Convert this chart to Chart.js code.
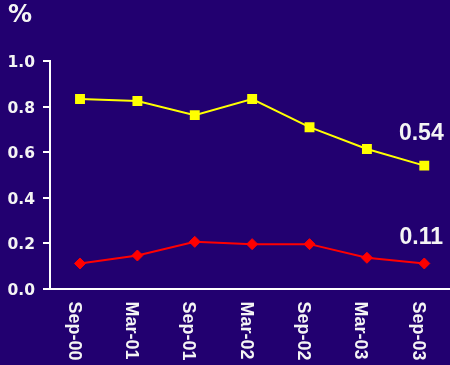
<!DOCTYPE html>
<html>
<head>
<meta charset="utf-8">
<script src="https://cdn.jsdelivr.net/npm/chart.js@4/dist/chart.umd.min.js"></script>
<style>
  html, body { margin: 0; padding: 0; background: #220070; }
  #wrap { position: relative; width: 450px; height: 365px; }
</style>
</head>
<body>
<div id="wrap"><canvas id="c"></canvas></div>
<script>
// Half-year periods on the horizontal axis
const periods = ['Sep-00', 'Mar-01', 'Sep-01', 'Mar-02', 'Sep-02', 'Mar-03', 'Sep-03'];
// Upper series (yellow squares), percent
const upperSeries = [0.833, 0.824, 0.762, 0.833, 0.709, 0.613, 0.54];
// Lower series (red diamonds), percent
const lowerSeries = [0.11, 0.145, 0.205, 0.195, 0.195, 0.135, 0.11];
// Vertical axis ticks
const yTicks = [0, 0.2, 0.4, 0.6, 0.8, 1.0];

const TEXT = '#f4f4f4';

// Period index as x so the axis can run slightly past the last period
const toPoints = arr => arr.map((v, i) => ({ x: i, y: v }));

// Draws the unit label, rotated category labels and end-of-line value labels
const annotate = {
  id: 'annotate',
  afterDraw(chart) {
    const ctx = chart.ctx;
    const xs = chart.scales.x;
    const area = chart.chartArea;
    ctx.save();
    ctx.fillStyle = TEXT;

    // unit label
    ctx.font = 'bold 24px "DejaVu Sans"';
    ctx.textAlign = 'left';
    ctx.textBaseline = 'alphabetic';
    ctx.fillText('%', 8, 22);

    // category labels, reading top to bottom
    ctx.font = 'bold 18px "Liberation Sans"';
    periods.forEach((p, i) => {
      const px = xs.getPixelForValue(i);
      ctx.save();
      ctx.translate(px - 11.5, area.bottom + 13);
      ctx.rotate(Math.PI / 2);
      ctx.textAlign = 'left';
      ctx.textBaseline = 'alphabetic';
      ctx.fillText(p, 0, 0);
      ctx.restore();
    });

    // value of the latest point of each series
    ctx.font = 'bold 23px "Liberation Sans"';
    ctx.textAlign = 'center';
    chart.data.datasets.forEach((ds, di) => {
      const meta = chart.getDatasetMeta(di);
      const n = ds.data.length - 1;
      const pt = meta.data[n];
      ctx.fillText(ds.data[n].y.toFixed(2), pt.x - 3, pt.y - ds.endLabelRise);
    });
    ctx.restore();
  }
};

new Chart(document.getElementById('c'), {
  type: 'line',
  data: {
    datasets: [
      {
        data: toPoints(upperSeries),
        borderColor: '#ffff00',
        backgroundColor: '#ffff00',
        borderWidth: 2,
        pointStyle: 'rect',
        pointRadius: 7,
        pointBorderWidth: 0,
        pointBackgroundColor: '#ffff00',
        tension: 0,
        endLabelRise: 26
      },
      {
        data: toPoints(lowerSeries),
        borderColor: '#ff0000',
        backgroundColor: '#ff0000',
        borderWidth: 2,
        pointStyle: 'rectRot',
        pointRadius: 5.5,
        pointBorderWidth: 1,
        pointBackgroundColor: '#ff0000',
        tension: 0,
        endLabelRise: 19
      }
    ]
  },
  options: {
    responsive: true,
    maintainAspectRatio: false,
    animation: false,
    layout: { autoPadding: false, padding: { top: 61, right: 0, left: 0, bottom: 0 } },
    plugins: { legend: { display: false }, tooltip: { enabled: false } },
    scales: {
      x: {
        type: 'linear',
        min: -0.523,
        max: 6.448,
        grid: { display: false },
        border: { display: true, color: '#ffffff', width: 2 },
        ticks: { display: false },
        afterFit(scale) { scale.height = 76.5; }
      },
      y: {
        min: 0,
        max: 1,
        afterBuildTicks(scale) { scale.ticks = yTicks.map(v => ({ value: v })); },
        grid: { drawOnChartArea: false, drawTicks: true, tickLength: 7, color: '#ffffff', lineWidth: 2 },
        border: { display: true, color: '#ffffff', width: 2 },
        ticks: {
          color: TEXT,
          padding: 8,
          labelOffset: 2,
          font: { family: '"DejaVu Sans"', weight: 'bold', size: 15.5 },
          callback: v => Number(v).toFixed(1)
        },
        afterFit(scale) { scale.width = 50; }
      }
    }
  },
  plugins: [annotate]
});
</script>
</body>
</html>
